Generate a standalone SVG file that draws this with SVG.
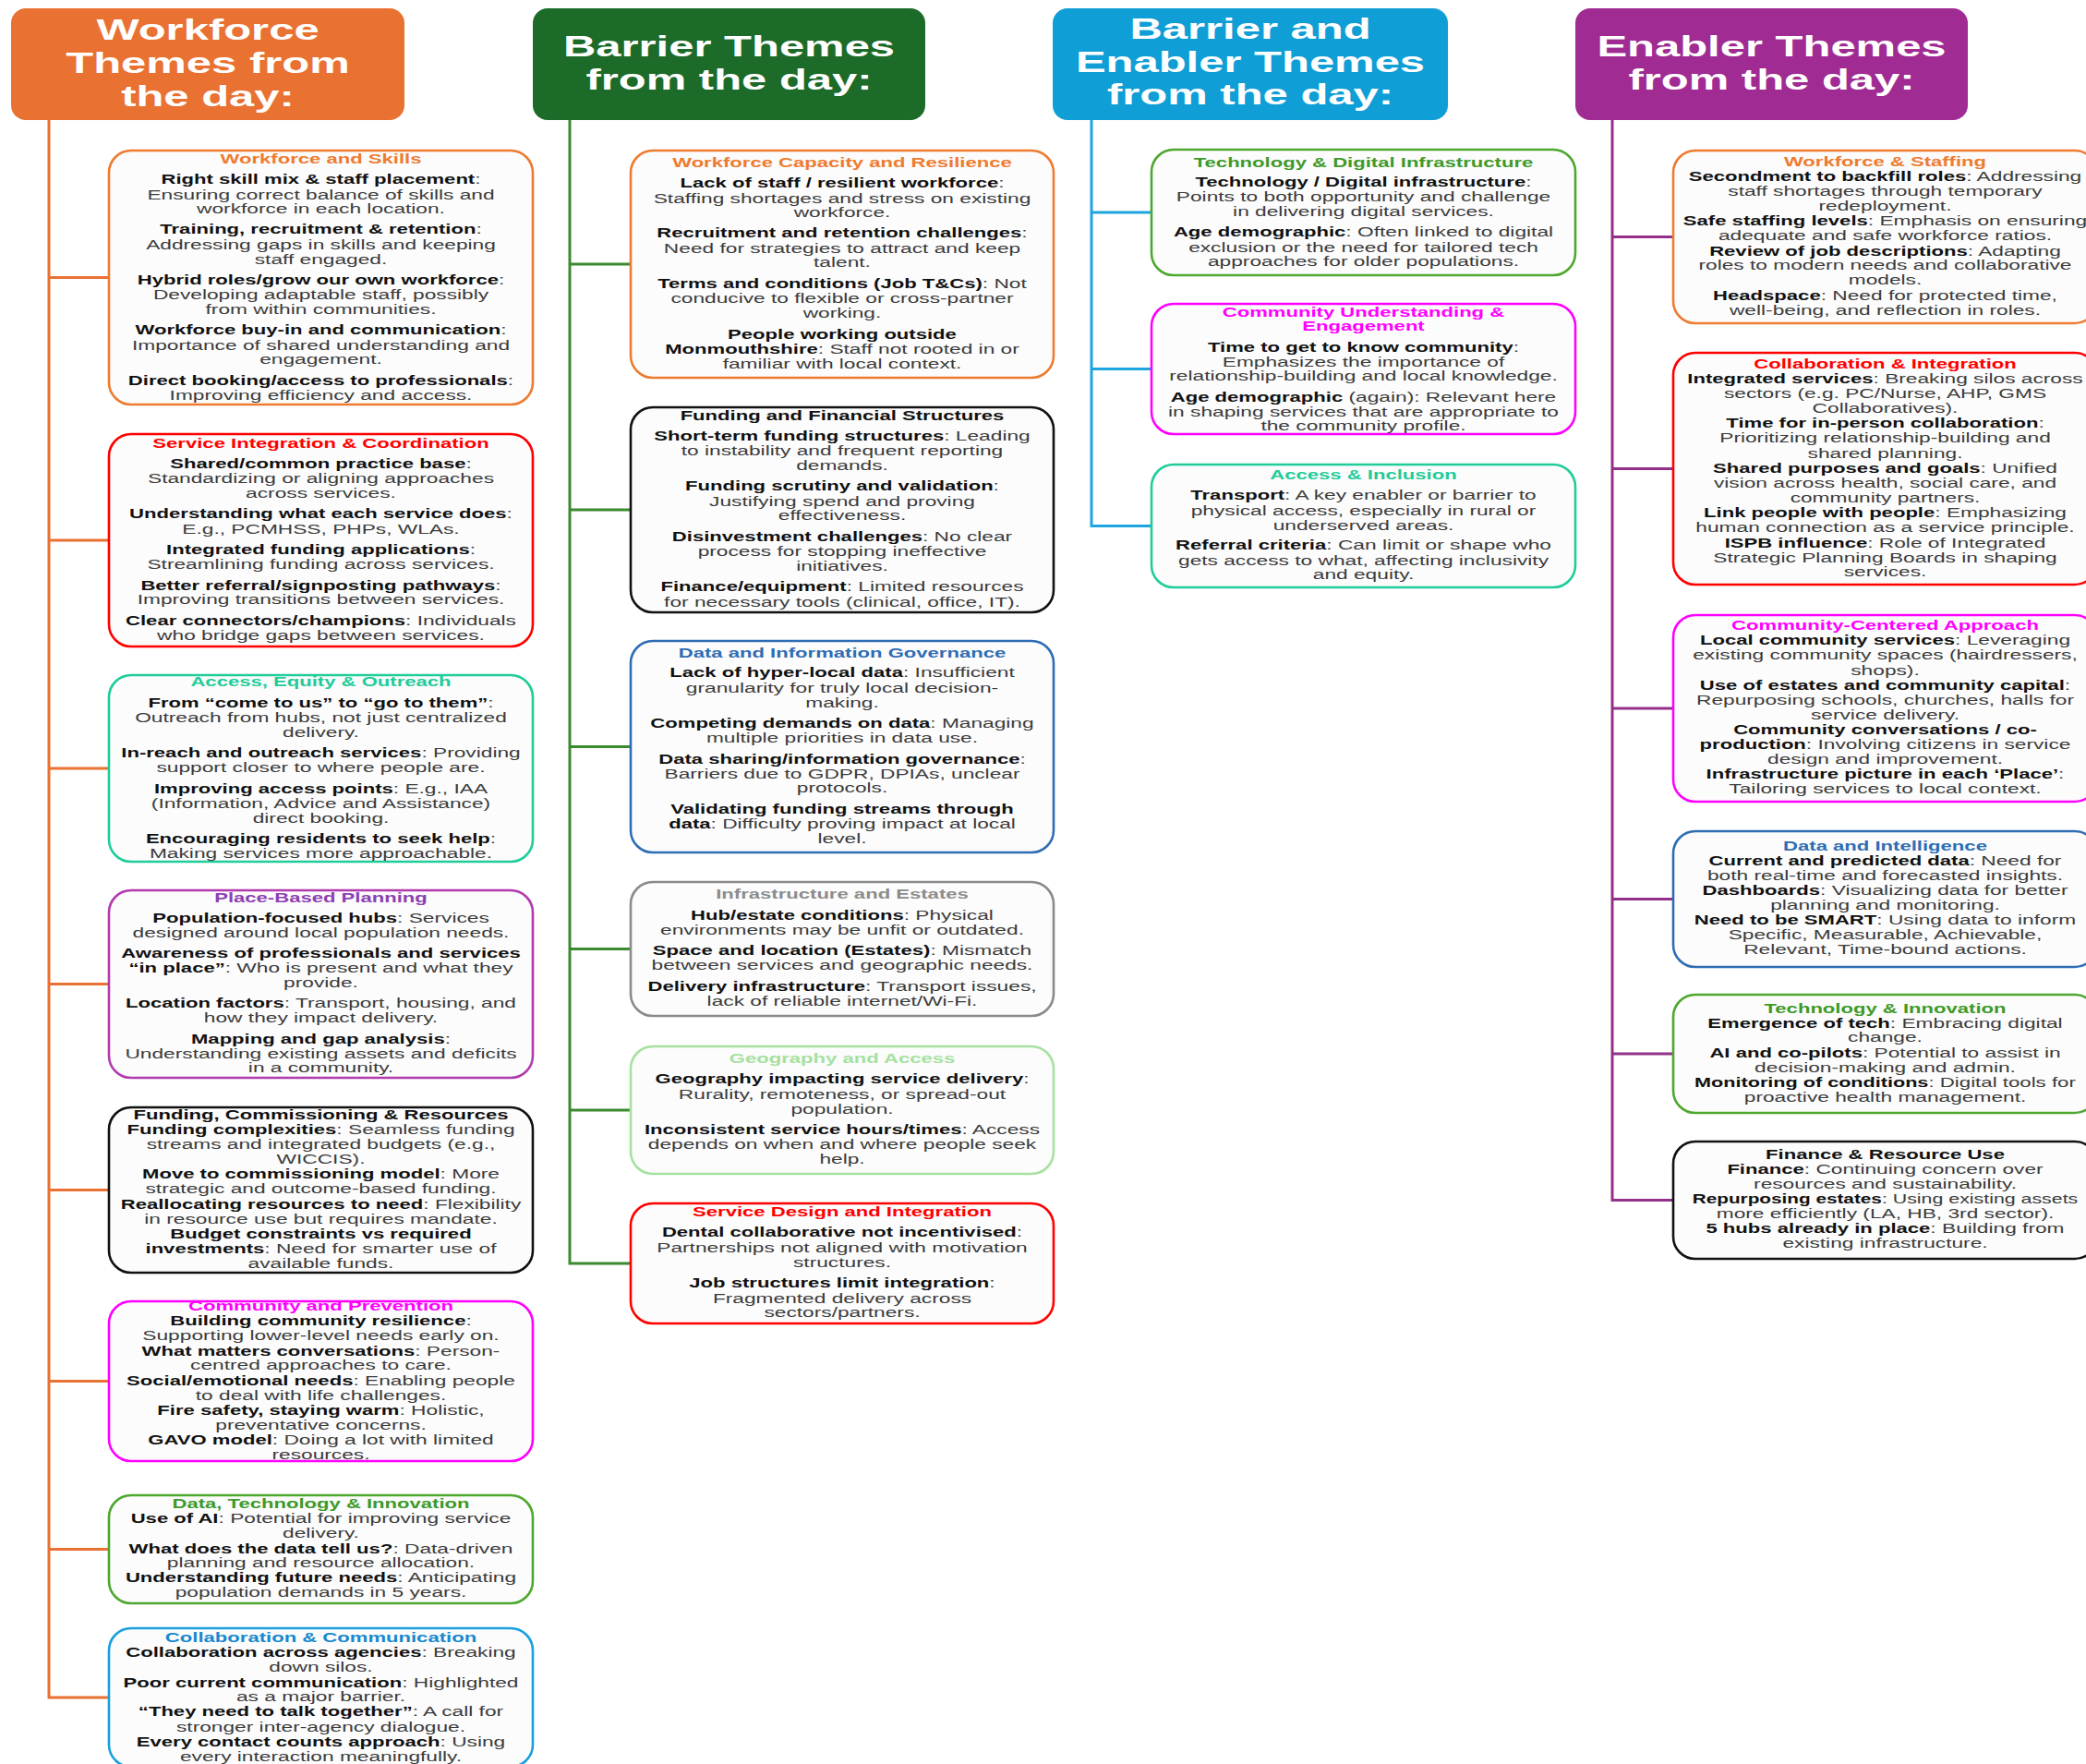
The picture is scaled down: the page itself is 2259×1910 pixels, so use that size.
<svg xmlns="http://www.w3.org/2000/svg" width="2259" height="1910" viewBox="0 0 2259 1910">
<style>
.hdr{stroke:none}
.ht{font-family:"Liberation Sans",Arial,Helvetica,sans-serif;font-weight:700;font-size:31px;fill:#fff;text-anchor:middle}
.box{fill:#FCFCFC;stroke-width:2.6}
.tx{font-family:"Liberation Sans",Arial,Helvetica,sans-serif;font-size:14.2px;fill:#3b3b3b;text-anchor:middle}
.b{font-weight:700;fill:#111;font-size:13.8px}
.r{font-weight:400;fill:#3b3b3b;font-size:14.2px}
.ttl{font-weight:700;font-size:13.8px}
.k-or{fill:#EE7B30}.s-or{stroke:#EE7B30}
.k-rd{fill:#FF0000}.s-rd{stroke:#FF0000}
.k-tl{fill:#1FCC9A}.s-tl{stroke:#1FCC9A}
.k-pu{fill:#8E3FB3}.s-pu{stroke:#B13BAE}
.k-bk{fill:#111}.s-bk{stroke:#111}
.k-mg{fill:#FF00FF}.s-mg{stroke:#FF00FF}
.k-gn{fill:#3E9A2A}.s-gn{stroke:#4EA72E}
.k-bl{fill:#1789CF}.s-bl{stroke:#1AA0DC}
.k-sb{fill:#2E6DB4}.s-sb{stroke:#2E6DB4}
.k-gy{fill:#8C8C8C}.s-gy{stroke:#8A8A8A}
.k-lg{fill:#A6E1A0}.s-lg{stroke:#A6E1A0}
.conn path{fill:none;stroke-width:3}
</style>
<rect width="2259" height="1910" fill="#fff"/>

<g id="connectors" class="conn">
<path stroke="#E97132" d="M53 130 V1838 H118 M53 300.5 H118 M53 585 H118 M53 832 H118 M53 1065.5 H118 M53 1288.5 H118 M53 1495.5 H118 M53 1677.5 H118"/>
<path stroke="#3A8A2F" d="M617 130 V1368 H683 M617 286 H683 M617 552 H683 M617 808.5 H683 M617 1027.5 H683 M617 1202 H683"/>
<path stroke="#1DA5E0" d="M1182 130 V569.5 H1247 M1182 230 H1247 M1182 399.5 H1247"/>
<path stroke="#93318A" d="M1746 130 V1299.5 H1812 M1746 256.5 H1812 M1746 507.5 H1812 M1746 767 H1812 M1746 973.5 H1812 M1746 1141 H1812"/>
</g>

<!-- Headers -->
<g id="hdr-workforce">
<rect class="hdr" x="12" y="9" width="426" height="121" rx="16" fill="#E97132"/>
<g transform="translate(225,0) scale(1.58,1)"><text class="ht" y="42.7">Workforce</text><text class="ht" y="79">Themes from</text><text class="ht" y="115">the day:</text></g>
</g>
<g id="hdr-barrier">
<rect class="hdr" x="577" y="9" width="425" height="121" rx="16" fill="#1C6B28"/>
<g transform="translate(789.5,0) scale(1.58,1)"><text class="ht" y="61">Barrier Themes</text><text class="ht" y="96.7">from the day:</text></g>
</g>
<g id="hdr-barrier-enabler">
<rect class="hdr" x="1140" y="9" width="428" height="121" rx="16" fill="#0F9ED5"/>
<g transform="translate(1354,0) scale(1.58,1)"><text class="ht" y="42">Barrier and</text><text class="ht" y="77.7">Enabler Themes</text><text class="ht" y="112.8">from the day:</text></g>
</g>
<g id="hdr-enabler">
<rect class="hdr" x="1706" y="9" width="425" height="121" rx="16" fill="#A02B93"/>
<g transform="translate(1918.5,0) scale(1.58,1)"><text class="ht" y="60.7">Enabler Themes</text><text class="ht" y="96.7">from the day:</text></g>
</g>

<!-- Column 1 -->
<g id="c1-workforce-skills">
<rect class="box s-or" x="118" y="163" width="459" height="275" rx="24"/>
<g class="tx" transform="translate(347.5,0) scale(1.6,1)">
<text class="ttl k-or" y="176.7">Workforce and Skills</text>
<text y="199"><tspan class="b">Right skill mix &amp; staff placement</tspan>:</text>
<text y="215.7">Ensuring correct balance of skills and</text>
<text y="231">workforce in each location.</text>
<text y="253.3"><tspan class="b">Training, recruitment &amp; retention</tspan>:</text>
<text y="270">Addressing gaps in skills and keeping</text>
<text y="285.7">staff engaged.</text>
<text y="307.7"><tspan class="b">Hybrid roles/grow our own workforce</tspan>:</text>
<text y="324.3">Developing adaptable staff, possibly</text>
<text y="340">from within communities.</text>
<text y="362.3"><tspan class="b">Workforce buy-in and communication</tspan>:</text>
<text y="379">Importance of shared understanding and</text>
<text y="394.3">engagement.</text>
<text y="417.3"><tspan class="b">Direct booking/access to professionals</tspan>:</text>
<text y="433.3">Improving efficiency and access.</text>
</g>
</g>

<g id="c1-service-integration">
<rect class="box s-rd" x="118" y="470" width="459" height="230" rx="24"/>
<g class="tx" transform="translate(347.5,0) scale(1.6,1)">
<text class="ttl k-rd" y="485">Service Integration &amp; Coordination</text>
<text y="506.7"><tspan class="b">Shared/common practice base</tspan>:</text>
<text y="523.3">Standardizing or aligning approaches</text>
<text y="539">across services.</text>
<text y="561"><tspan class="b">Understanding what each service does</tspan>:</text>
<text y="577.7">E.g., PCMHSS, PHPs, WLAs.</text>
<text y="600"><tspan class="b">Integrated funding applications</tspan>:</text>
<text y="616">Streamlining funding across services.</text>
<text y="639"><tspan class="b">Better referral/signposting pathways</tspan>:</text>
<text y="654.3">Improving transitions between services.</text>
<text y="677.3"><tspan class="b">Clear connectors/champions</tspan>: Individuals</text>
<text y="693.3">who bridge gaps between services.</text>
</g>
</g>

<g id="c1-access-equity">
<rect class="box s-tl" x="118" y="731" width="459" height="202" rx="24"/>
<g class="tx" transform="translate(347.5,0) scale(1.6,1)">
<text class="ttl k-tl" y="743.3">Access, Equity &amp; Outreach</text>
<text y="765.7"><tspan class="b">From “come to us” to “go to them”</tspan>:</text>
<text y="781.7">Outreach from hubs, not just centralized</text>
<text y="797.7">delivery.</text>
<text y="820"><tspan class="b">In-reach and outreach services</tspan>: Providing</text>
<text y="836">support closer to where people are.</text>
<text y="859"><tspan class="b">Improving access points</tspan>: E.g., IAA</text>
<text y="874.7">(Information, Advice and Assistance)</text>
<text y="890.7">direct booking.</text>
<text y="913.3"><tspan class="b">Encouraging residents to seek help</tspan>:</text>
<text y="929">Making services more approachable.</text>
</g>
</g>

<g id="c1-place-based">
<rect class="box s-pu" x="118" y="964" width="459" height="203" rx="24"/>
<g class="tx" transform="translate(347.5,0) scale(1.6,1)">
<text class="ttl k-pu" y="976.7">Place-Based Planning</text>
<text y="998.7"><tspan class="b">Population-focused hubs</tspan>: Services</text>
<text y="1015">designed around local population needs.</text>
<text y="1037" class="b">Awareness of professionals and services</text>
<text y="1053"><tspan class="b">“in place”</tspan>: Who is present and what they</text>
<text y="1069">provide.</text>
<text y="1091.3"><tspan class="b">Location factors</tspan>: Transport, housing, and</text>
<text y="1107.3">how they impact delivery.</text>
<text y="1130"><tspan class="b">Mapping and gap analysis</tspan>:</text>
<text y="1146">Understanding existing assets and deficits</text>
<text y="1161.3">in a community.</text>
</g>
</g>

<g id="c1-funding-commissioning">
<rect class="box s-bk" x="118" y="1199" width="459" height="179" rx="24"/>
<g class="tx" transform="translate(347.5,0) scale(1.6,1)">
<text class="ttl k-bk" y="1212">Funding, Commissioning &amp; Resources</text>
<text y="1228"><tspan class="b">Funding complexities</tspan>: Seamless funding</text>
<text y="1243.7">streams and integrated budgets (e.g.,</text>
<text y="1260">WICCIS).</text>
<text y="1276"><tspan class="b">Move to commissioning model</tspan>: More</text>
<text y="1292">strategic and outcome-based funding.</text>
<text y="1308.7"><tspan class="b">Reallocating resources to need</tspan>: Flexibility</text>
<text y="1324.7">in resource use but requires mandate.</text>
<text y="1340.7" class="b">Budget constraints vs required</text>
<text y="1356.7"><tspan class="b">investments</tspan>: Need for smarter use of</text>
<text y="1372.7">available funds.</text>
</g>
</g>

<g id="c1-community-prevention">
<rect class="box s-mg" x="118" y="1409" width="459" height="173" rx="24"/>
<g class="tx" transform="translate(347.5,0) scale(1.6,1)">
<text class="ttl k-mg" y="1419.3">Community and Prevention</text>
<text y="1435.3"><tspan class="b">Building community resilience</tspan>:</text>
<text y="1451.3">Supporting lower-level needs early on.</text>
<text y="1467.7"><tspan class="b">What matters conversations</tspan>: Person-</text>
<text y="1483.3">centred approaches to care.</text>
<text y="1500"><tspan class="b">Social/emotional needs</tspan>: Enabling people</text>
<text y="1516">to deal with life challenges.</text>
<text y="1532.3"><tspan class="b">Fire safety, staying warm</tspan>: Holistic,</text>
<text y="1547.7">preventative concerns.</text>
<text y="1564.3"><tspan class="b">GAVO model</tspan>: Doing a lot with limited</text>
<text y="1580">resources.</text>
</g>
</g>

<g id="c1-data-technology">
<rect class="box s-gn" x="118" y="1619" width="459" height="117" rx="24"/>
<g class="tx" transform="translate(347.5,0) scale(1.6,1)">
<text class="ttl k-gn" y="1633.3">Data, Technology &amp; Innovation</text>
<text y="1649.3"><tspan class="b">Use of AI</tspan>: Potential for improving service</text>
<text y="1665">delivery.</text>
<text y="1681.7"><tspan class="b">What does the data tell us?</tspan>: Data-driven</text>
<text y="1697.3">planning and resource allocation.</text>
<text y="1713.3"><tspan class="b">Understanding future needs</tspan>: Anticipating</text>
<text y="1729.3">population demands in 5 years.</text>
</g>
</g>

<g id="c1-collaboration-communication">
<rect class="box s-bl" x="118" y="1763" width="459" height="150" rx="24"/>
<g class="tx" transform="translate(347.5,0) scale(1.6,1)">
<text class="ttl k-bl" y="1778.3">Collaboration &amp; Communication</text>
<text y="1794.3"><tspan class="b">Collaboration across agencies</tspan>: Breaking</text>
<text y="1810">down silos.</text>
<text y="1826.7"><tspan class="b">Poor current communication</tspan>: Highlighted</text>
<text y="1842.3">as a major barrier.</text>
<text y="1858.3"><tspan class="b">“They need to talk together”</tspan>: A call for</text>
<text y="1874.7">stronger inter-agency dialogue.</text>
<text y="1891"><tspan class="b">Every contact counts approach</tspan>: Using</text>
<text y="1906.7">every interaction meaningfully.</text>
</g>
</g>

<!-- Column 2 -->
<g id="c2-workforce-capacity">
<rect class="box s-or" x="683" y="163" width="458" height="246" rx="24"/>
<g class="tx" transform="translate(912,0) scale(1.6,1)">
<text class="ttl k-or" y="181">Workforce Capacity and Resilience</text>
<text y="202.7"><tspan class="b">Lack of staff / resilient workforce</tspan>:</text>
<text y="220">Staffing shortages and stress on existing</text>
<text y="235.3">workforce.</text>
<text y="257.3"><tspan class="b">Recruitment and retention challenges</tspan>:</text>
<text y="274.3">Need for strategies to attract and keep</text>
<text y="289.3">talent.</text>
<text y="312.3"><tspan class="b">Terms and conditions (Job T&amp;Cs)</tspan>: Not</text>
<text y="328.3">conducive to flexible or cross-partner</text>
<text y="344.3">working.</text>
<text y="366.7" class="b">People working outside</text>
<text y="383.3"><tspan class="b">Monmouthshire</tspan>: Staff not rooted in or</text>
<text y="399">familiar with local context.</text>
</g>
</g>

<g id="c2-funding-financial">
<rect class="box s-bk" x="683" y="441" width="458" height="222" rx="24"/>
<g class="tx" transform="translate(912,0) scale(1.6,1)">
<text class="ttl k-bk" y="455">Funding and Financial Structures</text>
<text y="476.7"><tspan class="b">Short-term funding structures</tspan>: Leading</text>
<text y="493.3">to instability and frequent reporting</text>
<text y="509">demands.</text>
<text y="531"><tspan class="b">Funding scrutiny and validation</tspan>:</text>
<text y="547.7">Justifying spend and proving</text>
<text y="563.3">effectiveness.</text>
<text y="585.7"><tspan class="b">Disinvestment challenges</tspan>: No clear</text>
<text y="602.3">process for stopping ineffective</text>
<text y="618.3">initiatives.</text>
<text y="640"><tspan class="b">Finance/equipment</tspan>: Limited resources</text>
<text y="656.7">for necessary tools (clinical, office, IT).</text>
</g>
</g>

<g id="c2-data-governance">
<rect class="box s-sb" x="683" y="694" width="458" height="229" rx="24"/>
<g class="tx" transform="translate(912,0) scale(1.6,1)">
<text class="ttl k-sb" y="711.7">Data and Information Governance</text>
<text y="733.3"><tspan class="b">Lack of hyper-local data</tspan>: Insufficient</text>
<text y="750">granularity for truly local decision-</text>
<text y="765.7">making.</text>
<text y="788.3"><tspan class="b">Competing demands on data</tspan>: Managing</text>
<text y="804.3">multiple priorities in data use.</text>
<text y="826.7"><tspan class="b">Data sharing/information governance</tspan>:</text>
<text y="842.7">Barriers due to GDPR, DPIAs, unclear</text>
<text y="858.3">protocols.</text>
<text y="881" class="b">Validating funding streams through</text>
<text y="897.3"><tspan class="b">data</tspan>: Difficulty proving impact at local</text>
<text y="913.3">level.</text>
</g>
</g>

<g id="c2-infrastructure-estates">
<rect class="box s-gy" x="683" y="955" width="458" height="145" rx="24"/>
<g class="tx" transform="translate(912,0) scale(1.6,1)">
<text class="ttl k-gy" y="973.3">Infrastructure and Estates</text>
<text y="995.7"><tspan class="b">Hub/estate conditions</tspan>: Physical</text>
<text y="1012.3">environments may be unfit or outdated.</text>
<text y="1034.3"><tspan class="b">Space and location (Estates)</tspan>: Mismatch</text>
<text y="1050">between services and geographic needs.</text>
<text y="1072.7"><tspan class="b">Delivery infrastructure</tspan>: Transport issues,</text>
<text y="1088.7">lack of reliable internet/Wi-Fi.</text>
</g>
</g>

<g id="c2-geography-access">
<rect class="box s-lg" x="683" y="1133" width="458" height="138" rx="24"/>
<g class="tx" transform="translate(912,0) scale(1.6,1)">
<text class="ttl k-lg" y="1151">Geography and Access</text>
<text y="1173.3"><tspan class="b">Geography impacting service delivery</tspan>:</text>
<text y="1190">Rurality, remoteness, or spread-out</text>
<text y="1205.7">population.</text>
<text y="1227.7"><tspan class="b">Inconsistent service hours/times</tspan>: Access</text>
<text y="1244.3">depends on when and where people seek</text>
<text y="1260">help.</text>
</g>
</g>

<g id="c2-service-design">
<rect class="box s-rd" x="683" y="1303" width="458" height="130" rx="24"/>
<g class="tx" transform="translate(912,0) scale(1.6,1)">
<text class="ttl k-rd" y="1317.3">Service Design and Integration</text>
<text y="1339.3"><tspan class="b">Dental collaborative not incentivised</tspan>:</text>
<text y="1356">Partnerships not aligned with motivation</text>
<text y="1371.7">structures.</text>
<text y="1394"><tspan class="b">Job structures limit integration</tspan>:</text>
<text y="1410.7">Fragmented delivery across</text>
<text y="1426">sectors/partners.</text>
</g>
</g>

<!-- Column 3 -->
<g id="c3-technology-digital">
<rect class="box s-gn" x="1247" y="162" width="459" height="136" rx="24"/>
<g class="tx" transform="translate(1476.5,0) scale(1.6,1)">
<text class="ttl k-gn" y="180.6">Technology &amp; Digital Infrastructure</text>
<text y="201.7"><tspan class="b">Technology / Digital infrastructure</tspan>:</text>
<text y="218.2">Points to both opportunity and challenge</text>
<text y="233.9">in delivering digital services.</text>
<text y="256.2"><tspan class="b">Age demographic</tspan>: Often linked to digital</text>
<text y="272.7">exclusion or the need for tailored tech</text>
<text y="288.4">approaches for older populations.</text>
</g>
</g>

<g id="c3-community-understanding">
<rect class="box s-mg" x="1247" y="329" width="459" height="141" rx="24"/>
<g class="tx" transform="translate(1476.5,0) scale(1.6,1)">
<text class="ttl k-mg" y="342.6">Community Understanding &amp;</text>
<text class="ttl k-mg" y="357.9">Engagement</text>
<text y="380.6"><tspan class="b">Time to get to know community</tspan>:</text>
<text y="396.7">Emphasizes the importance of</text>
<text y="412.4">relationship-building and local knowledge.</text>
<text y="435.1"><tspan class="b">Age demographic</tspan> (again): Relevant here</text>
<text y="451.2">in shaping services that are appropriate to</text>
<text y="466.1">the community profile.</text>
</g>
</g>

<g id="c3-access-inclusion">
<rect class="box s-tl" x="1247" y="503" width="459" height="133" rx="24"/>
<g class="tx" transform="translate(1476.5,0) scale(1.6,1)">
<text class="ttl k-tl" y="519.4">Access &amp; Inclusion</text>
<text y="541.3"><tspan class="b">Transport</tspan>: A key enabler or barrier to</text>
<text y="557.9">physical access, especially in rural or</text>
<text y="573.6">underserved areas.</text>
<text y="595"><tspan class="b">Referral criteria</tspan>: Can limit or shape who</text>
<text y="612">gets access to what, affecting inclusivity</text>
<text y="627.3">and equity.</text>
</g>
</g>

<!-- Column 4 -->
<g id="c4-workforce-staffing">
<rect class="box s-or" x="1812" y="163" width="459" height="187" rx="24"/>
<g class="tx" transform="translate(2041.5,0) scale(1.6,1)">
<text class="ttl k-or" y="180">Workforce &amp; Staffing</text>
<text y="196"><tspan class="b">Secondment to backfill roles</tspan>: Addressing</text>
<text y="212">staff shortages through temporary</text>
<text y="228">redeployment.</text>
<text y="244.3"><tspan class="b">Safe staffing levels</tspan>: Emphasis on ensuring</text>
<text y="260">adequate and safe workforce ratios.</text>
<text y="276.7"><tspan class="b">Review of job descriptions</tspan>: Adapting</text>
<text y="292.3">roles to modern needs and collaborative</text>
<text y="308.3">models.</text>
<text y="325"><tspan class="b">Headspace</tspan>: Need for protected time,</text>
<text y="340.7">well-being, and reflection in roles.</text>
</g>
</g>

<g id="c4-collaboration-integration">
<rect class="box s-rd" x="1812" y="382" width="459" height="251" rx="24"/>
<g class="tx" transform="translate(2041.5,0) scale(1.6,1)">
<text class="ttl k-rd" y="399">Collaboration &amp; Integration</text>
<text y="415"><tspan class="b">Integrated services</tspan>: Breaking silos across</text>
<text y="431">sectors (e.g. PC/Nurse, AHP, GMS</text>
<text y="447.3">Collaboratives).</text>
<text y="463.3"><tspan class="b">Time for in-person collaboration</tspan>:</text>
<text y="479">Prioritizing relationship-building and</text>
<text y="495.7">shared planning.</text>
<text y="511.7"><tspan class="b">Shared purposes and goals</tspan>: Unified</text>
<text y="527.7">vision across health, social care, and</text>
<text y="544">community partners.</text>
<text y="560"><tspan class="b">Link people with people</tspan>: Emphasizing</text>
<text y="576">human connection as a service principle.</text>
<text y="592.7"><tspan class="b">ISPB influence</tspan>: Role of Integrated</text>
<text y="608.7">Strategic Planning Boards in shaping</text>
<text y="624.3">services.</text>
</g>
</g>

<g id="c4-community-centered">
<rect class="box s-mg" x="1812" y="666" width="459" height="202" rx="24"/>
<g class="tx" transform="translate(2041.5,0) scale(1.6,1)">
<text class="ttl k-mg" y="682.3">Community-Centered Approach</text>
<text y="698.3"><tspan class="b">Local community services</tspan>: Leveraging</text>
<text y="714.3">existing community spaces (hairdressers,</text>
<text y="730.7">shops).</text>
<text y="746.7"><tspan class="b">Use of estates and community capital</tspan>:</text>
<text y="762.7">Repurposing schools, churches, halls for</text>
<text y="779">service delivery.</text>
<text y="795" class="b">Community conversations / co-</text>
<text y="811"><tspan class="b">production</tspan>: Involving citizens in service</text>
<text y="827.3">design and improvement.</text>
<text y="843.3"><tspan class="b">Infrastructure picture in each ‘Place’</tspan>:</text>
<text y="859.3">Tailoring services to local context.</text>
</g>
</g>

<g id="c4-data-intelligence">
<rect class="box s-sb" x="1812" y="900" width="459" height="147" rx="24"/>
<g class="tx" transform="translate(2041.5,0) scale(1.6,1)">
<text class="ttl k-sb" y="920.7">Data and Intelligence</text>
<text y="936.7"><tspan class="b">Current and predicted data</tspan>: Need for</text>
<text y="952.7">both real-time and forecasted insights.</text>
<text y="969"><tspan class="b">Dashboards</tspan>: Visualizing data for better</text>
<text y="985">planning and monitoring.</text>
<text y="1001"><tspan class="b">Need to be SMART</tspan>: Using data to inform</text>
<text y="1017.3">Specific, Measurable, Achievable,</text>
<text y="1033.3">Relevant, Time-bound actions.</text>
</g>
</g>

<g id="c4-technology-innovation">
<rect class="box s-gn" x="1812" y="1077" width="459" height="128" rx="24"/>
<g class="tx" transform="translate(2041.5,0) scale(1.6,1)">
<text class="ttl k-gn" y="1096.7">Technology &amp; Innovation</text>
<text y="1112.7"><tspan class="b">Emergence of tech</tspan>: Embracing digital</text>
<text y="1128.3">change.</text>
<text y="1145"><tspan class="b">AI and co-pilots</tspan>: Potential to assist in</text>
<text y="1160.7">decision-making and admin.</text>
<text y="1176.7" transform="scale(0.98,1)"><tspan class="b">Monitoring of conditions</tspan>: Digital tools for</text>
<text y="1192.7">proactive health management.</text>
</g>
</g>

<g id="c4-finance-resource">
<rect class="box s-bk" x="1812" y="1236" width="459" height="127" rx="24"/>
<g class="tx" transform="translate(2041.5,0) scale(1.6,1)">
<text class="ttl k-bk" y="1255">Finance &amp; Resource Use</text>
<text y="1271"><tspan class="b">Finance</tspan>: Continuing concern over</text>
<text y="1286.7">resources and sustainability.</text>
<text y="1303.3" transform="scale(0.94,1)"><tspan class="b">Repurposing estates</tspan>: Using existing assets</text>
<text y="1319.3">more efficiently (LA, HB, 3rd sector).</text>
<text y="1335"><tspan class="b">5 hubs already in place</tspan>: Building from</text>
<text y="1351">existing infrastructure.</text>
</g>
</g>
</svg>
